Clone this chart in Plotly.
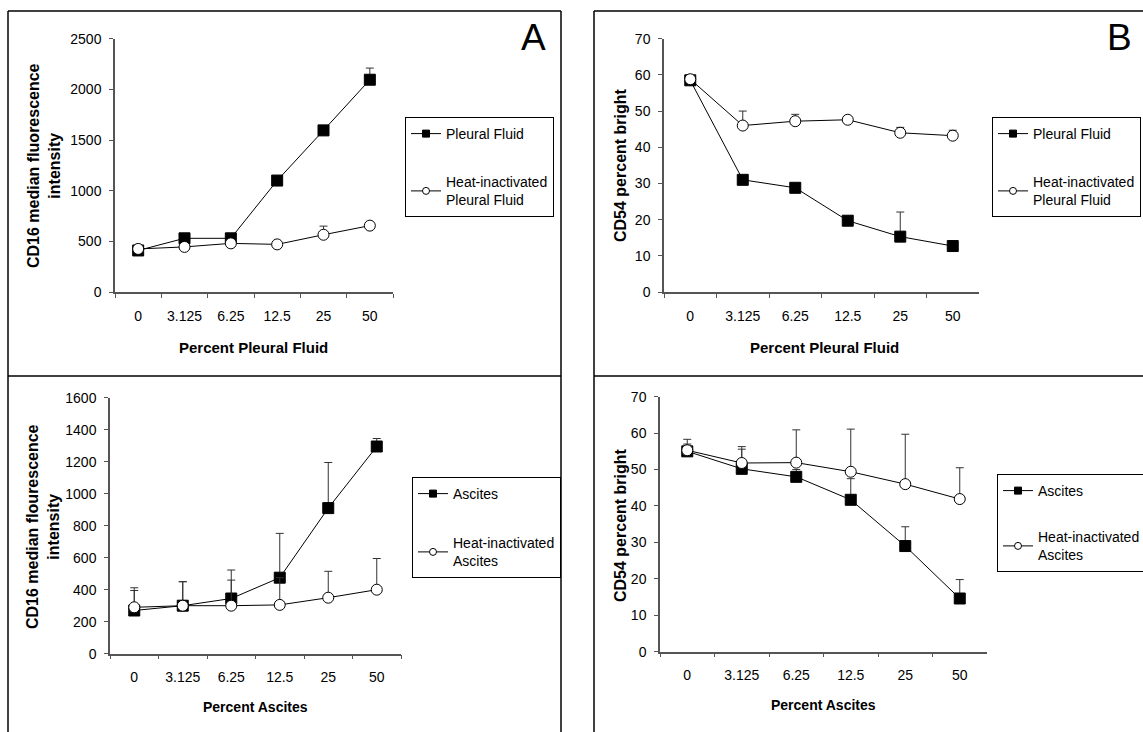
import plotly.graph_objects as go

W, H = 1143, 732

categories = ["0", "3.125", "6.25", "12.5", "25", "50"]

# Panel A: CD16 MFI vs percent pleural fluid
pleural_cd16 = [410, 530, 530, 1100, 1595, 2095]
pleural_cd16_err = [0, 0, 0, 0, 0, 115]
heat_pleural_cd16 = [425, 445, 480, 470, 565, 655]
heat_pleural_cd16_err = [0, 0, 0, 0, 85, 0]

# Panel B: CD54 percent bright vs percent pleural fluid
pleural_cd54 = [58.5, 31.0, 28.8, 19.7, 15.3, 12.7]
pleural_cd54_err = [0, 0, 0, 0, 6.8, 0]
heat_pleural_cd54 = [58.8, 46.0, 47.2, 47.6, 44.0, 43.2]
heat_pleural_cd54_err = [0, 4.0, 1.9, 0, 1.5, 1.5]

# Panel C: CD16 MFI vs percent ascites
ascites_cd16 = [270, 300, 345, 475, 910, 1295]
ascites_cd16_err = [125, 150, 178, 277, 285, 50]
heat_ascites_cd16 = [290, 300, 300, 305, 350, 400]
heat_ascites_cd16_err = [122, 150, 160, 170, 165, 195]

# Panel D: CD54 percent bright vs percent ascites
ascites_cd54 = [55.0, 50.2, 48.0, 41.7, 29.0, 14.6]
ascites_cd54_err = [2.0, 5.4, 2.0, 5.8, 5.3, 5.2]
heat_ascites_cd54 = [55.3, 51.8, 51.9, 49.4, 46.0, 41.9]
heat_ascites_cd54_err = [3.0, 4.5, 9.0, 11.7, 13.7, 8.6]

FONT = "Liberation Sans, Arial, sans-serif"

def px(x):
    return x / W

def py(y):
    return 1 - y / H

panels = [
    dict(ax="", xd=(115, 393), yd=(38.7, 292), yr=2500, dt=500,
         s1=(pleural_cd16, pleural_cd16_err), s2=(heat_pleural_cd16, heat_pleural_cd16_err),
         names=("Pleural Fluid", "Heat-inactivated<br>Pleural Fluid"),
         legend="legend", lpos=(405, 117), gap=27),
    dict(ax="2", xd=(664, 979), yd=(38.7, 292), yr=70, dt=10,
         s1=(pleural_cd54, pleural_cd54_err), s2=(heat_pleural_cd54, heat_pleural_cd54_err),
         names=("Pleural Fluid", "Heat-inactivated<br>Pleural Fluid"),
         legend="legend2", lpos=(992, 117), gap=27),
    dict(ax="3", xd=(110, 401), yd=(397.7, 653.7), yr=1600, dt=200,
         s1=(ascites_cd16, ascites_cd16_err), s2=(heat_ascites_cd16, heat_ascites_cd16_err),
         names=("Ascites", "Heat-inactivated<br>Ascites"),
         legend="legend3", lpos=(412, 477), gap=28),
    dict(ax="4", xd=(660, 987), yd=(396.7, 651.7), yr=70, dt=10,
         s1=(ascites_cd54, ascites_cd54_err), s2=(heat_ascites_cd54, heat_ascites_cd54_err),
         names=("Ascites", "Heat-inactivated<br>Ascites"),
         legend="legend4", lpos=(997, 474), gap=25),
]

fig = go.Figure()
layout = dict(
    width=W, height=H, margin=dict(l=0, r=0, t=0, b=0, pad=0, autoexpand=False),
    paper_bgcolor="white", plot_bgcolor="white",
    font=dict(family=FONT, color="black", size=14),
    showlegend=True,
)

AXC = "#555555"

for p in panels:
    a = p["ax"]
    xname, yname = "x" + a, "y" + a
    sq = dict(symbol="square", size=11, color="black", line=dict(color="black", width=1))
    ci = dict(symbol="circle", size=11, color="white", line=dict(color="black", width=1))
    for (vals, err), mk in ((p["s1"], sq), (p["s2"], ci)):
        fig.add_trace(go.Scatter(
            x=categories, y=vals, xaxis=xname, yaxis=yname,
            mode="lines+markers", line=dict(color="black", width=1), marker=mk,
            error_y=dict(type="data", symmetric=False, array=err, arrayminus=[0] * len(err),
                         color="#333333", thickness=1, width=4),
            showlegend=False, hoverinfo="skip", cliponaxis=False,
        ))
    # legend-only entries
    for name, mk, grp in ((p["names"][0], "square", "g1"), (p["names"][1], "circle", "g2")):
        fig.add_trace(go.Scatter(
            x=[None], y=[None], xaxis=xname, yaxis=yname, name=name,
            mode="lines+markers", line=dict(color="black", width=1),
            marker=dict(symbol=mk, size=7, color="black" if mk == "square" else "white",
                        line=dict(color="black", width=1)),
            legend=p["legend"], legendgroup=grp, showlegend=True,
        ))
    layout["xaxis" + a] = dict(
        domain=[px(p["xd"][0]), px(p["xd"][1])], anchor=yname, automargin=False,
        type="category", categoryorder="array", categoryarray=categories,
        range=[-0.5, 5.5], tickson="boundaries", ticks="outside", ticklen=4,
        tickcolor=AXC, showline=True, linecolor=AXC, linewidth=1.5, showgrid=False,
        zeroline=False, tickfont=dict(size=14), ticklabelstandoff=10, fixedrange=True,
    )
    layout["yaxis" + a] = dict(
        domain=[py(p["yd"][1]), py(p["yd"][0])], anchor=xname, automargin=False,
        range=[0, p["yr"]], dtick=p["dt"], tick0=0, ticks="outside", ticklen=4,
        tickcolor=AXC, showline=True, linecolor=AXC, linewidth=1.5, showgrid=False,
        zeroline=False, tickfont=dict(size=14), ticklabelstandoff=5, fixedrange=True,
    )
    layout[p["legend"]] = dict(
        x=px(p["lpos"][0]), y=py(p["lpos"][1]), xanchor="left", yanchor="top",
        bordercolor="black", borderwidth=1, bgcolor="white",
        font=dict(size=14, family=FONT), traceorder="grouped", tracegroupgap=p["gap"],
        itemsizing="trace",
    )

ann = []
def title(text, x, y, size, angle=0):
    ann.append(dict(text=text, x=px(x), y=py(y), xref="paper", yref="paper",
                    showarrow=False, xanchor="center", yanchor="middle",
                    textangle=angle, font=dict(size=size, family=FONT, color="black")))

title("<b>Percent Pleural Fluid</b>", 253, 347, 15)
title("<b>CD16 median fluorescence<br>intensity</b>", 44, 166, 16, -90)
title("<b>Percent Pleural Fluid</b>", 824, 347, 15)
title("<b>CD54 percent bright</b>", 621, 165, 16, -90)
title("<b>Percent Ascites</b>", 255, 707, 14)
title("<b>CD16 median flourescence<br>intensity</b>", 43, 527, 16, -90)
title("<b>Percent Ascites</b>", 823, 705, 14)
title("<b>CD54 percent bright</b>", 620, 525, 16, -90)
title("A", 533, 38, 37)
title("B", 1119, 38, 37)
layout["annotations"] = ann

shapes = []
def seg(x0, y0, x1, y1):
    shapes.append(dict(type="line", xref="paper", yref="paper",
                       x0=px(x0), y0=py(y0), x1=px(x1), y1=py(y1),
                       line=dict(color="black", width=1.5)))

seg(8, 11, 561, 11)
seg(8, 11, 8, 732)
seg(561, 11, 561, 732)
seg(8, 376, 561, 376)
seg(594, 11, 1143, 11)
seg(594, 11, 594, 732)
seg(594, 376, 1143, 376)
layout["shapes"] = shapes

fig.update_layout(**layout)
fig.write_html("out.html")
